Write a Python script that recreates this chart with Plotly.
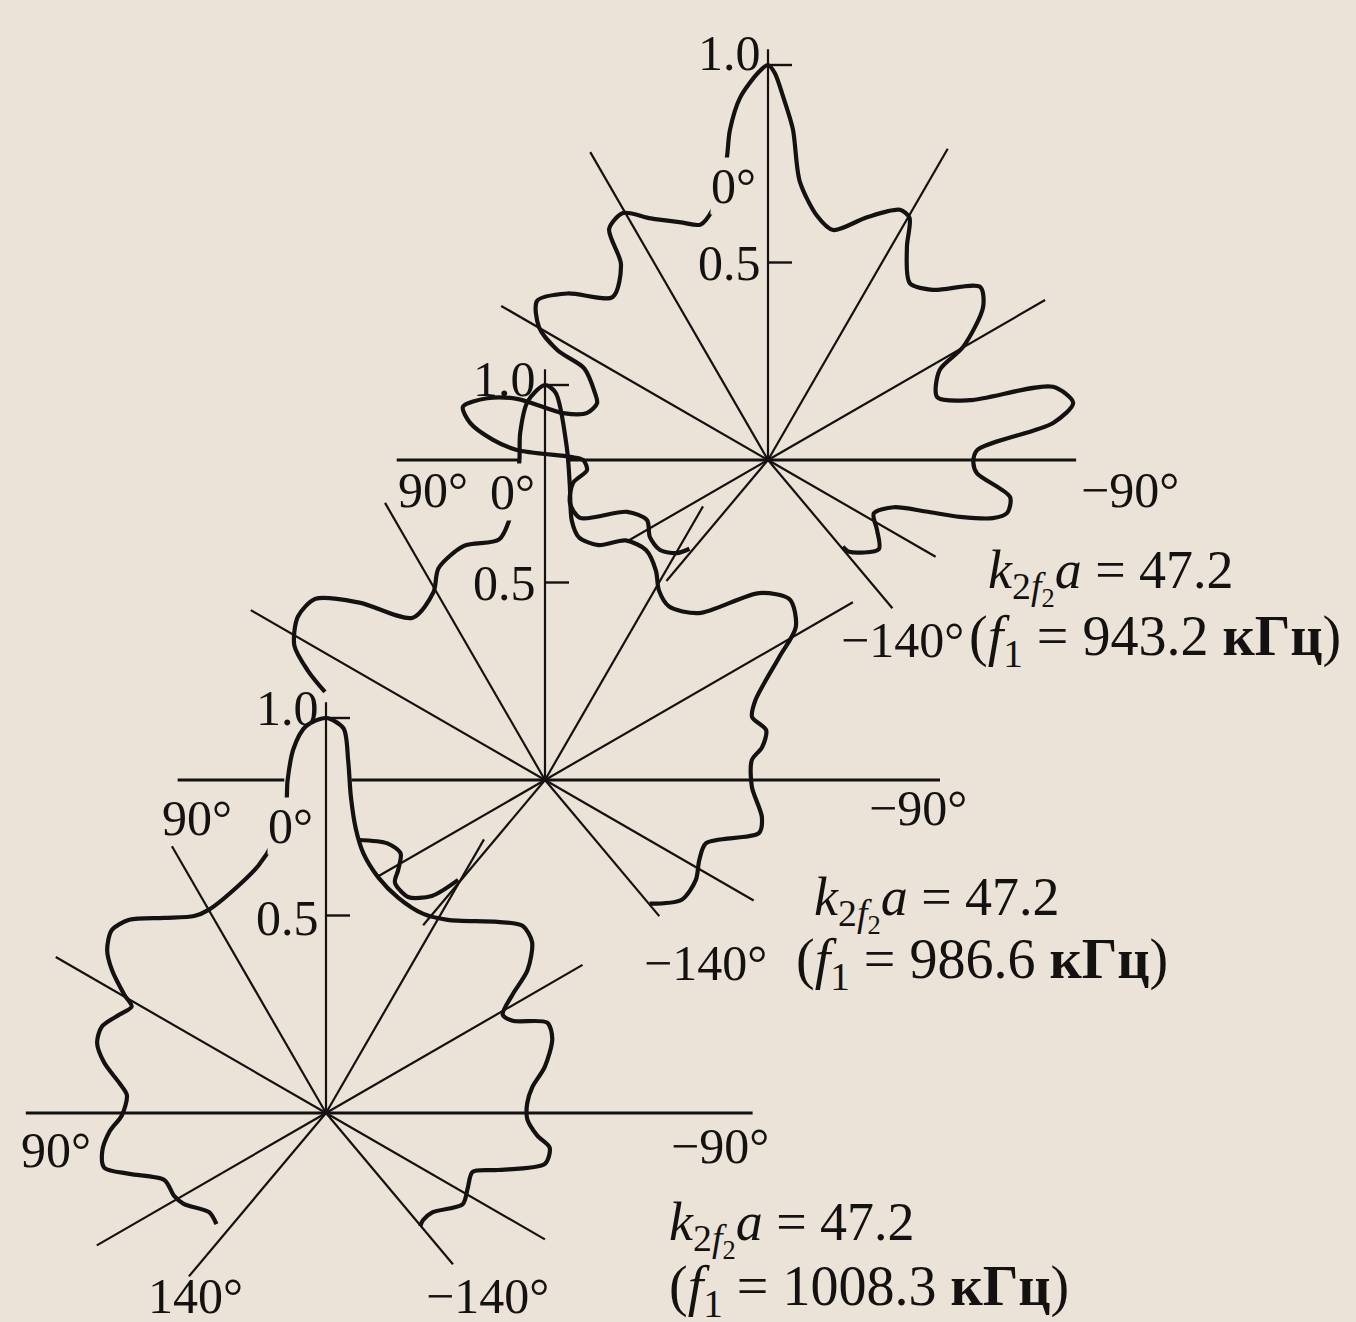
import numpy as np
import plotly.graph_objects as go

# directivity patterns: angle in degrees (0 deg = up, positive to the left) and relative level
top_theta = [-139.2, -138.6, -128.8, -122.7, -116.8, -110.6, -108.1, -106.5, -104.5, -102.5,
             -98.7, -93.6, -90.8, -87.3, -82.6, -79.4, -75.6, -73.5, -69.6, -62.4,
             -59.9, -54.6, -50.8, -44.1, -38.7, -33.1, -30.3, -27.8, -22.2, -15.8,
             -11.4, -6.5, -4.3, -2.4, -1.0, 0.0, 1.5, 4.4, 6.6, 7.8,
             10.0, 12.4, 16.0, 20.0, 25.9, 30.4, 34.5, 36.9, 43.6, 50.3,
             55.4, 59.9, 62.5, 63.5, 68.8, 71.6, 75.4, 77.1, 76.3, 77.6,
             80.1, 82.9, 85.8, 87.7, 89.1, 90.0, 93.2, 96.7, 102.3, 107.1,
             110.2, 116.4, 123.1, 129.8, 135.6, 138.5]
top_r = [0.29, 0.31, 0.36, 0.328, 0.30, 0.34, 0.42, 0.507, 0.588, 0.62,
         0.62, 0.53, 0.52, 0.53, 0.728, 0.786, 0.745, 0.533, 0.457, 0.49,
         0.571, 0.668, 0.693, 0.60, 0.574, 0.644, 0.71, 0.716, 0.664, 0.605,
         0.63, 0.71, 0.84, 0.92, 0.98, 1.0, 0.98, 0.92, 0.84, 0.77,
         0.70, 0.65, 0.62, 0.64, 0.68, 0.725, 0.71, 0.62, 0.57, 0.66,
         0.71, 0.67, 0.60, 0.52, 0.47, 0.456, 0.473, 0.532, 0.654, 0.728,
         0.784, 0.76, 0.698, 0.636, 0.50, 0.468, 0.459, 0.497, 0.513, 0.498,
         0.38, 0.342, 0.357, 0.356, 0.33, 0.30]

mid_theta = [-139.8, -131.2, -123.5, -117.4, -111.4, -103.9, -99.7, -91.9, -84.5, -81.4,
             -77.3, -73.1, -69.2, -62.3, -58.6, -53.6, -48.9, -42.7, -35.6, -31.0,
             -27.9, -23.7, -18.6, -12.9, -8.0, -5.9, -4.8, -3.8, -1.6, 0.0,
             2.6, 4.1, 4.6, 7.2, 10.8, 19.1, 26.7, 30.7, 39.2, 46.3,
             51.7, 56.5, 61.8, 65.3, 68.2]
mid_r = [0.41, 0.46, 0.458, 0.44, 0.438, 0.558, 0.557, 0.524, 0.526, 0.556,
         0.574, 0.548, 0.57, 0.67, 0.744, 0.77, 0.72, 0.575, 0.54, 0.56,
         0.60, 0.636, 0.64, 0.61, 0.62, 0.66, 0.75, 0.84, 0.98, 1.0,
         0.96, 0.88, 0.81, 0.68, 0.62, 0.627, 0.60, 0.553, 0.53, 0.65,
         0.74, 0.75, 0.72, 0.66, 0.60]
mid_tail_theta = [107.8, 111.9, 116.9, 121.5, 124.3, 130.5, 135.7, 139.0]
mid_tail_r = [0.497, 0.43, 0.41, 0.436, 0.46, 0.456, 0.41, 0.335]

bot_theta = [-140.2, -137.9, -132.9, -123.7, -117.9, -111.9, -108.4, -103.1, -98.8, -96.1,
             -91.8, -87.2, -82.9, -78.1, -71.8, -67.8, -63.7, -60.9, -57.6, -54.7,
             -50.3, -46.4, -41.9, -32.2, -25.9, -18.5, -12.5, -8.2, -6.0, -4.5,
             -3.6, -2.6, 0.0, 3.0, 5.1, 6.6, 7.4, 11.2, 15.2, 21.0,
             29.9, 33.8, 39.7, 45.5, 49.5, 53.3, 56.3, 59.6, 61.3, 64.5,
             68.9, 73.0, 77.3, 81.8, 84.9, 90.7, 94.9, 99.8, 103.9, 107.2,
             112.5, 118.6, 122.7, 130.3, 135.4]
bot_r = [0.373, 0.366, 0.369, 0.416, 0.406, 0.40, 0.457, 0.569, 0.573, 0.538,
         0.51, 0.51, 0.526, 0.566, 0.603, 0.605, 0.527, 0.512, 0.559, 0.625,
         0.678, 0.687, 0.65, 0.578, 0.561, 0.575, 0.611, 0.664, 0.723, 0.803,
         0.894, 0.975, 1.0, 0.98, 0.926, 0.847, 0.786, 0.696, 0.65, 0.617,
         0.594, 0.60, 0.642, 0.698, 0.713, 0.691, 0.651, 0.592, 0.561, 0.579,
         0.608, 0.606, 0.575, 0.528, 0.506, 0.517, 0.55, 0.575, 0.578, 0.521,
         0.443, 0.438, 0.427, 0.388, 0.395]

# radial guide lines and how far each one is drawn
ray_angles = [0, 30, -30, 60, -60, 90, -90, 120, -120, 140, -140]
top_rays = [1.04, 0.90, 0.91, 0.78, 0.81, 0.94, 0.78, 0.41, 0.49, 0.40, 0.49]
mid_rays = [1.04, 0.81, 0.80, 0.86, 0.90, 0.93, 1.00, 0.49, 0.61, 0.48, 0.45]
bot_rays = [1.04, 0.78, 0.80, 0.79, 0.75, 0.76, 1.08, 0.67, 0.64, 0.54, 0.50]
top_gap = (90, 0.51, 0.63)   # horizontal line hidden behind the next pattern
mid_gap = (90, 0.49, 0.66)
bot_gap = None

tick_values = [0.5, 1.0]
ka_values = ["47.2", "47.2", "47.2"]
f1_values = ["943.2", "986.6", "1008.3"]

R = 395          # pixels for level 1.0
BG = "#ebe3d8"
INK = "#141210"
FONT = "Liberation Serif"


def to_xy(cx, cy, theta, r):
    t = np.radians(np.asarray(theta, dtype=float))
    r = np.asarray(r, dtype=float)
    return cx - R * r * np.sin(t), cy - R * r * np.cos(t)


def ray_trace(cx, cy, lengths, gap, which, width):
    xs, ys = [], []
    for a, L in zip(ray_angles, lengths):
        if abs(a) not in which:
            continue
        pieces = [(0.0, L)]
        if gap is not None and gap[0] == a:
            pieces = [(0.0, gap[1]), (gap[2], L)]
        for r0, r1 in pieces:
            x, y = to_xy(cx, cy, [a, a], [r0, r1])
            xs += list(x) + [None]
            ys += list(y) + [None]
    return go.Scatter(x=xs, y=ys, mode="lines", line=dict(color=INK, width=width),
                      hoverinfo="skip", showlegend=False)


def tick_trace(cx, cy):
    xs, ys = [], []
    for v in tick_values:
        y = cy - R * v
        xs += [cx, cx + 24, None]
        ys += [y, y, None]
    return go.Scatter(x=xs, y=ys, mode="lines", line=dict(color=INK, width=2.4),
                      hoverinfo="skip", showlegend=False)


def curve_trace(cx, cy, theta, r):
    x, y = to_xy(cx, cy, theta, r)
    return go.Scatter(x=x, y=y, mode="lines",
                      line=dict(color=INK, width=4.2, shape="spline", smoothing=0.8),
                      hoverinfo="skip", showlegend=False)


diagrams = [
    dict(c=(768, 460), rays=top_rays, gap=top_gap, curves=[(top_theta, top_r)]),
    dict(c=(545, 780), rays=mid_rays, gap=mid_gap,
         curves=[(mid_theta, mid_r), (mid_tail_theta, mid_tail_r)]),
    dict(c=(326, 1113), rays=bot_rays, gap=bot_gap, curves=[(bot_theta, bot_r)]),
]

fig = go.Figure()
for d in diagrams:
    cx, cy = d["c"]
    fig.add_trace(ray_trace(cx, cy, d["rays"], d["gap"], {0, 30, 60, 120, 140}, 2.2))
    fig.add_trace(ray_trace(cx, cy, d["rays"], d["gap"], {90}, 3.2))
    fig.add_trace(tick_trace(cx, cy))
    for th, rr in d["curves"]:
        fig.add_trace(curve_trace(cx, cy, th, rr))

annotations = []


def label(text, x, y, size=46, xanchor="center", bg=None):
    annotations.append(dict(
        text=text, x=x, y=y, xref="x", yref="y", showarrow=False,
        xanchor=xanchor, yanchor="middle",
        font=dict(family=FONT, size=size, color=INK),
        bgcolor=bg, borderpad=0,
    ))


# tick labels on the vertical axis of each pattern
tick_offsets = [(-6, -12, 0), (-8, -6, 0), (-6, -10, 2)]
for d, (dx, dy1, dy5) in zip(diagrams, tick_offsets):
    cx, cy = d["c"]
    for v in tick_values:
        y = cy - R * v + (dy1 if v == 1.0 else dy5)
        label(f"{v:.1f}", cx + dx, y, size=50, xanchor="right")

# angle labels
label("0°", 733, 186, size=50, bg=BG)
label("90°", 433, 490, size=50)
label("−90°", 1130, 490, size=50)
label("−140°", 902, 640, size=50)

label("0°", 512, 492, size=50, bg=BG)
label("90°", 197, 818, size=50)
label("−90°", 918, 808, size=50)
label("−140°", 705, 963, size=50)

label("0°", 290, 826, size=50, bg=BG)
label("90°", 56, 1150, size=50)
label("−90°", 720, 1146, size=50)
label("140°", 195, 1296, size=50)
label("−140°", 487, 1296, size=50)

# parameter captions
ka_pos = [(987, 576), (813, 903), (668, 1228)]
f1_pos = [(968, 640), (795, 963), (668, 1290)]
for ka, f1, (kx, ky), (fx, fy) in zip(ka_values, f1_values, ka_pos, f1_pos):
    label(f"<i>k</i><sub>2<i>f</i><sub>2</sub></sub><i>a</i> = {ka}", kx, ky,
          size=54, xanchor="left")
    label(f"(<i>f</i><sub>1</sub> = {f1} <b>кГц</b>)", fx, fy, size=56, xanchor="left")

fig.update_layout(
    width=1356, height=1322,
    margin=dict(l=0, r=0, t=0, b=0),
    paper_bgcolor=BG, plot_bgcolor=BG,
    xaxis=dict(range=[0, 1356], visible=False, fixedrange=True),
    yaxis=dict(range=[1322, 0], visible=False, fixedrange=True),
    annotations=annotations,
    showlegend=False,
)

fig.write_html(
    "out.html",
    config={"displayModeBar": False},
    post_script="document.body.style.margin='0';document.body.style.overflow='hidden';"
                f"document.body.style.background='{BG}';",
)
